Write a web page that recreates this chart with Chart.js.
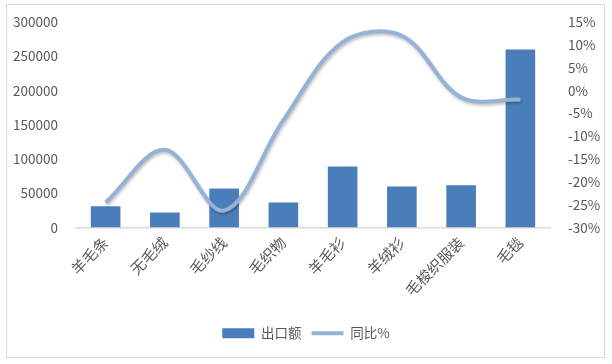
<!DOCTYPE html>
<html>
<head>
<meta charset="utf-8">
<script src="https://cdn.jsdelivr.net/npm/chart.js@4/dist/chart.umd.min.js"></script>
<style>
  html, body { margin: 0; padding: 0; background: #fff; }
  #wrap { width: 612px; height: 364px; }
</style>
</head>
<body>
<div id="wrap"><canvas id="myChart" width="612" height="364"></canvas></div>
<script>
const labels = ['羊毛条', '无毛绒', '毛纱线', '毛织物', '羊毛衫', '羊绒衫', '毛梭织服装', '毛毯'];
const exportValues = [31000, 22000, 57000, 36500, 89000, 60000, 61500, 260000];
const yoyValues = [-24.5, -13, -26.3, -6.5, 10.6, 12, -1.5, -2];
const leftTicks = [0, 50000, 100000, 150000, 200000, 250000, 300000];
const rightTicks = [-30, -25, -20, -15, -10, -5, 0, 5, 10, 15];

const font = { family: "'Noto Sans CJK SC', 'Liberation Sans', sans-serif", size: 13.5 };
const xFont = { family: "'Noto Sans CJK SC', sans-serif", size: 15 };
const gray = '#595959';

// outer frame like the original picture
const frame = {
    id: 'frame',
    afterDraw(chart) {
        const c = chart.ctx;
        c.save();
        c.strokeStyle = '#d9d9d9';
        c.lineWidth = 1;
        c.strokeRect(6.5, 4.5, 598, 353);
        c.restore();
    }
};

const lineShadow = {
    id: 'lineShadow',
    beforeDatasetDraw(chart, args) {
        if (args.meta.type === 'line') {
            chart.ctx.save();
            chart.ctx.shadowColor = 'rgba(0,0,0,0.25)';
            chart.ctx.shadowBlur = 3;
            chart.ctx.shadowOffsetX = 1;
            chart.ctx.shadowOffsetY = 2;
        }
    },
    afterDatasetDraw(chart, args) {
        if (args.meta.type === 'line') chart.ctx.restore();
    }
};

const ctx = document.querySelector('#myChart').getContext('2d');

const data = {
    labels,
    datasets: [{
        type: 'bar',
        label: '出口额',
        data: exportValues,
        backgroundColor: '#4A7EBB',
        pointStyle: 'rect',
        yAxisID: 'y',
        order: 1,
        barPercentage: 0.5,
        categoryPercentage: 1.0,
    }, {
        type: 'line',
        label: '同比%',
        data: yoyValues,
        borderColor: '#95B3D7',
        backgroundColor: '#95B3D7',
        borderWidth: 4,
        pointRadius: 0,
        pointStyle: 'line',
        tension: 0.35,
        yAxisID: 'y1',
        order: 0,
    }],
};

const config = {
    data: data,
    options: {
        responsive: false,
        animation: false,
        layout: { padding: { left: 0, right: 0, top: 22, bottom: 14 } },
        plugins: {
            tooltip: { enabled: false },
            legend: {
                position: 'bottom',
                labels: {
                    sort: (a, b) => a.datasetIndex - b.datasetIndex,
                    usePointStyle: true,
                    pointStyleWidth: 32,
                    boxHeight: 10,
                    padding: 10,
                    color: gray,
                    font: font,
                }
            }
        },
        scales: {
            x: {
                grid: { display: false, drawTicks: false },
                border: { display: true, color: '#d9d9d9', width: 1.5 },
                ticks: { color: gray, font: xFont, minRotation: 45, maxRotation: 45, padding: 6 },
                afterFit(scale) { scale.height = 89; }
            },
            y: {
                position: 'left',
                min: 0,
                max: 300000,
                afterBuildTicks(scale) { scale.ticks = leftTicks.map(v => ({ value: v })); },
                grid: { display: false },
                border: { display: false },
                ticks: { color: gray, font: font, padding: 10, callback: v => String(v) },
                afterFit(scale) { scale.width = 76; }
            },
            y1: {
                position: 'right',
                min: -30,
                max: 15,
                afterBuildTicks(scale) { scale.ticks = rightTicks.map(v => ({ value: v })); },
                grid: { display: false },
                border: { display: false },
                ticks: { color: gray, font: font, padding: 10, callback: v => v + '%' },
                afterFit(scale) { scale.width = 62; }
            }
        }
    },
    plugins: [frame, lineShadow],
};

const myChart = new Chart(ctx, config);
</script>
</body>
</html>
